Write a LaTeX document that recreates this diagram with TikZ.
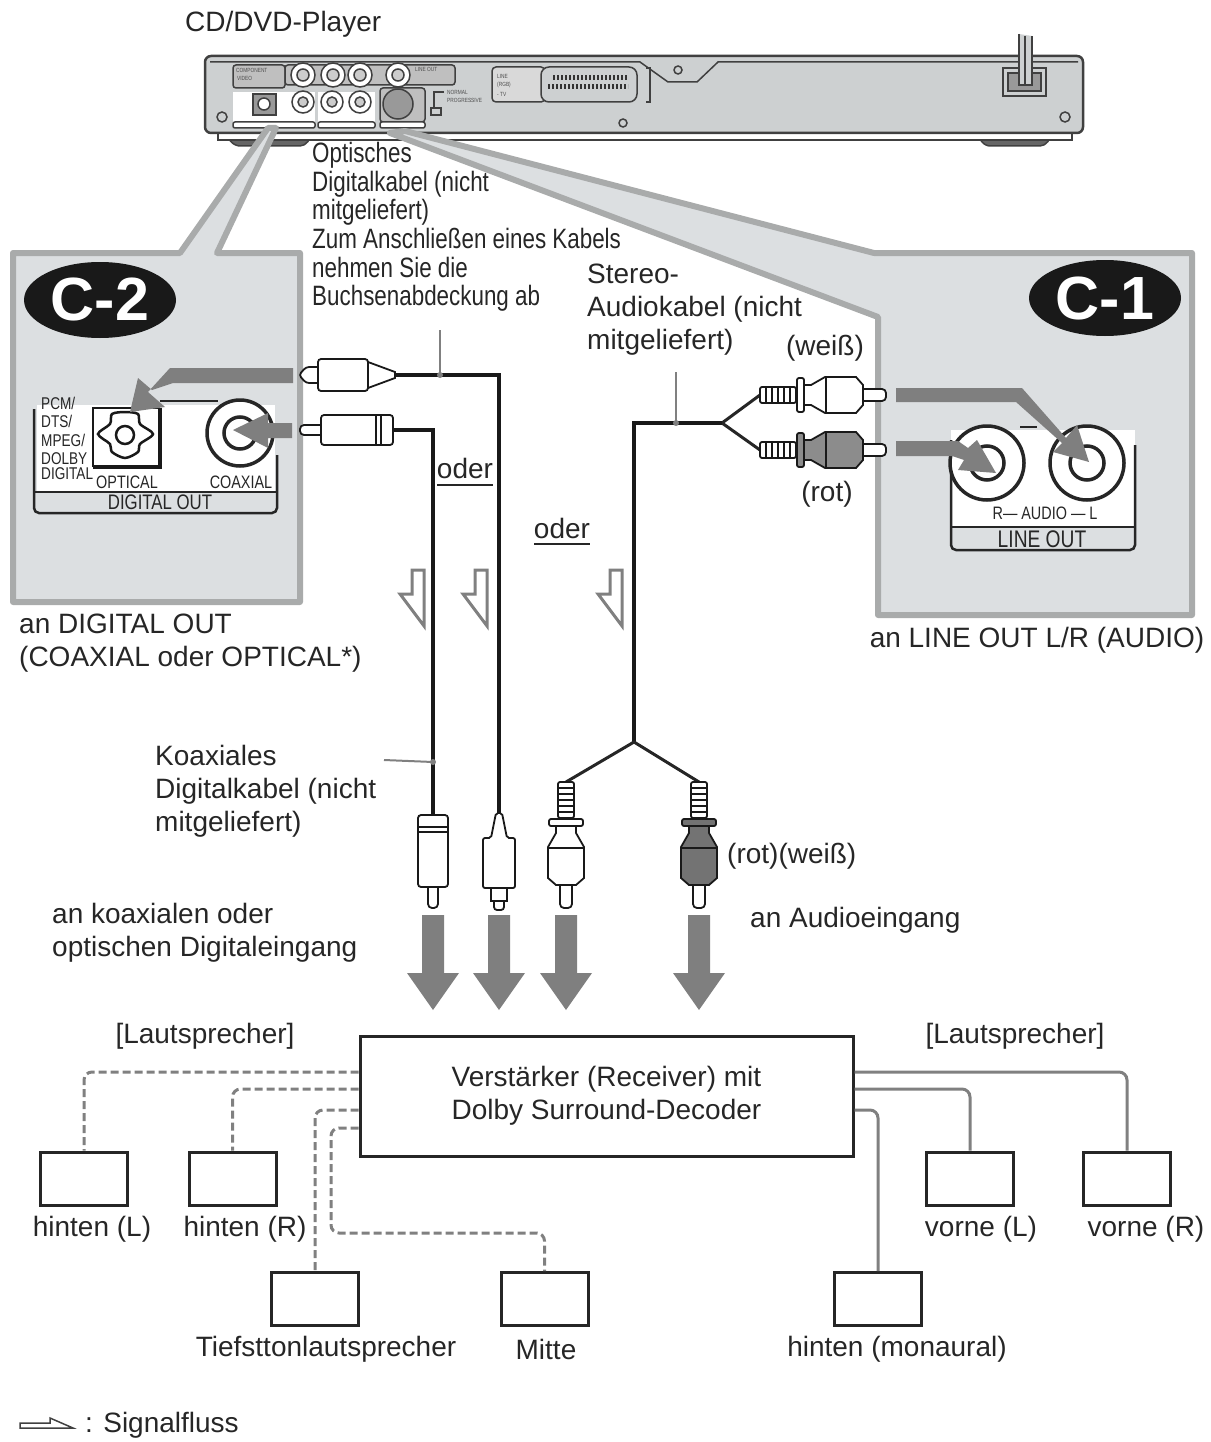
\documentclass[tikz,border=0pt]{standalone}
\usepackage{fontspec}
\setmainfont{Liberation Sans}
\newfontfamily\narrowfont[FakeStretch=0.8]{Liberation Sans}
\usetikzlibrary{shapes.geometric}
\definecolor{panelfill}{HTML}{DCDFE1}
\definecolor{panelrim}{HTML}{A9ABAB}
\definecolor{bodyfill}{HTML}{CDD0D1}
\definecolor{flowgray}{HTML}{7F7F7F}
\definecolor{inkdark}{HTML}{262626}
\tikzset{
	every node/.style={font=\fontsize{28}{33}\selectfont,text=inkdark,inner sep=0pt},
	panel/.style={fill=panelfill,draw=panelrim,line width=6pt,line join=round},
	badge/.style={ellipse,fill=black!90,minimum width=152pt,minimum height=76pt,text=white,font=\fontsize{61}{61}\bfseries\selectfont},
	narrowtext/.style={font=\narrowfont\fontsize{28}{28.6}\selectfont},
	smalltext/.style={font=\narrowfont\fontsize{#1}{#1}\selectfont},
	tinytext/.style={font=\narrowfont\fontsize{6}{7}\selectfont,text=black!70},
	spkbox/.style={draw=inkdark,line width=3pt,minimum width=87pt,minimum height=53pt,fill=white},
	ampbox/.style={draw=inkdark,line width=3pt,minimum width=493pt,minimum height=120pt,align=left},
	spkdash/.style={draw=black!50,line width=3pt,dash pattern=on 8pt off 4pt,rounded corners=8pt},
	spksolid/.style={draw=black!50,line width=3pt,rounded corners=8pt},
	cable/.style={draw=black!90,line width=4pt},
	thincable/.style={draw=black!85,line width=3pt},
	leader/.style={draw=black!50,line width=2pt},
	flowfill/.style={fill=flowgray,draw=none},
	hollow/.style={draw=black!50,line width=3pt,fill=white,line join=miter},
	plugline/.style={draw=black!90,line width=1.8pt},
	deviceline/.style={draw=black!75,line width=1.5pt},
	jack/.style={draw=black!85,line width=3.5pt,fill=white},
	pics/rcaplug/.style={code={
		\draw[plugline,fill=white,rounded corners=4pt] (-6,100) -- (-6,126) -- (6,126) -- (6,100);
		\draw[plugline,fill=white,rounded corners=2pt] (-8,0) rectangle (8,36);
		\foreach \ry in {6,12,18,24,30} \draw[draw=black!90,line width=2pt] (-8,\ry) -- (8,\ry);
		\draw[plugline,fill=#1,rounded corners=2pt] (-17,37) rectangle (17,44);
		\draw[plugline,fill=#1] (-10,44) -- (-10,51) -- (-18,65) -- (-18,96) -- (-10,103) -- (10,103) -- (18,96) -- (18,65) -- (10,51) -- (10,44) -- cycle;
		\draw[plugline] (-18,66) -- (18,66);
	}},
	pics/coaxplug/.style={code={
		\draw[plugline,fill=white,rounded corners=4pt] (-5,72) -- (-5,93) -- (5,93) -- (5,72);
		\draw[plugline,fill=white,rounded corners=3pt] (-15,0) rectangle (15,72);
		\draw[plugline] (-15,12) -- (15,12);
		\draw[plugline] (-15,17) -- (15,17);
	}},
	pics/optplug/.style={code={
		\draw[plugline,fill=white,rounded corners=3pt] (-5,85) -- (-5,97) -- (5,97) -- (5,85);
		\draw[plugline,fill=white] (-8,72) -- (-8,88) -- (8,88) -- (8,72);
		\draw[plugline,fill=white,rounded corners=2pt] (-3,0) -- (-8,25) -- (-16,25) -- (-16,75) -- (16,75) -- (16,25) -- (8,25) -- (3,0) -- cycle;
	}},
	pics/halfarrow/.style={code={
		\draw[hollow] (12,0) -- (24,0) -- (24,56) -- (0,24) -- (12,24) -- cycle;
	}},
	pics/downarrow/.style={code={
		\fill[flowgray] (-11,0) -- (11,0) -- (11,58) -- (26,58) -- (0,95) -- (-26,58) -- (-11,58) -- cycle;
	}},
}
\begin{document}
\begin{tikzpicture}[x=1pt,y=-1pt]
	\useasboundingbox (0,0) rectangle (1210,1442);

	\node[anchor=west] (playerlabel) at (185,24) {CD/DVD-Player};
	\draw[deviceline,fill=black!60,rounded corners=5pt] (225,135) -- (235,146) -- (305,146) -- (312,135) -- cycle;
	\draw[deviceline,fill=black!60,rounded corners=5pt] (977,135) -- (985,146) -- (1045,146) -- (1052,135) -- cycle;
	\draw[deviceline,fill=white] (218,128) rectangle (1072,140);
	\draw[draw=black!75,line width=2.5pt,fill=bodyfill,rounded corners=6pt] (205,56) rectangle (1083,133);
	\draw[deviceline] (210,62) -- (640,62) -- (668,82) -- (697,82) -- (718,62) -- (1078,62);
	\draw[deviceline] (678,70) circle (4);
	\draw[deviceline] (222,117) circle (5);
	\draw[deviceline] (623,123) circle (4);
	\draw[deviceline] (1065,117) circle (5);
	\draw[deviceline] (1003,68) rectangle (1046,96);
	\draw[deviceline,fill=black!40] (1008,73) rectangle (1041,91);
	\draw[deviceline,fill=bodyfill] (1019,34) -- (1019,85) -- (1032,85) -- (1032,36);
	\draw[deviceline] (1025,36) -- (1025,85);

	\draw[deviceline,fill=black!25,rounded corners=3pt] (233,65) rectangle (285,88);
	\draw[deviceline,fill=black!25,rounded corners=3pt] (285,65) rectangle (455,85);
	\foreach \jx in {303,333,360,398} {
		\draw[deviceline,fill=white] (\jx,75) circle (12);
		\draw[deviceline,fill=black!20] (\jx,75) circle (6);
	}
	\node[tinytext,anchor=west] (compolabel) at (236,70) {COMPONENT};
	\node[tinytext,anchor=west] (videolabel) at (237,78) {VIDEO};
	\node[tinytext,anchor=west] (linelabel) at (415,69) {LINE OUT};
	\fill[white] (233,92) rectangle (315,122);
	\fill[white] (318,92) rectangle (375,122);
	\draw[deviceline,fill=black!25,rounded corners=3pt] (380,88) rectangle (425,122);
	\draw[deviceline,fill=black!40] (253,94) rectangle (276,115);
	\draw[deviceline,fill=white] (264,104) circle (6);
	\foreach \jx in {303,332,360} {
		\draw[deviceline,fill=white] (\jx,102) circle (11);
		\draw[deviceline,fill=black!20] (\jx,102) circle (5);
	}
	\draw[deviceline,fill=black!40] (398,104) circle (15);
	\draw[deviceline,fill=white,rounded corners=2pt] (233,122) rectangle (315,128);
	\draw[deviceline,fill=white,rounded corners=2pt] (318,122) rectangle (375,128);
	\draw[deviceline,fill=white,rounded corners=2pt] (380,122) rectangle (425,128);
	\draw[deviceline] (444,92) -- (434,92) -- (434,108);
	\draw[deviceline] (431,108) rectangle (441,115);
	\node[tinytext,anchor=west] (normallabel) at (447,92) {NORMAL};
	\node[tinytext,anchor=west] (proglabel) at (447,100) {PROGRESSIVE};
	\draw[deviceline,fill=black!15,rounded corners=4pt] (492,67) rectangle (545,102);
	\draw[deviceline,fill=bodyfill,rounded corners=8pt] (541,67) rectangle (637,102);
	\node[tinytext,anchor=west] (scartlabel) at (497,76) {LINE};
	\node[tinytext,anchor=west] (rgblabel) at (497,85) {(RGB)};
	\node[tinytext,anchor=west] (tvlabel) at (497,94) {- TV};
	\draw[draw=black!80,line width=5pt,dash pattern=on 2pt off 2pt] (553,78) -- (627,78);
	\draw[draw=black!80,line width=5pt,dash pattern=on 2pt off 2pt] (548,87) -- (628,87);
	\draw[deviceline] (646,68) -- (650,68) -- (650,102) -- (646,102);

	\draw[panel] (13,253) -- (180,253) -- (268,128) -- (276,128) -- (217,253) -- (300,253) -- (300,602) -- (13,602) -- cycle;
	\draw[panel] (1192,253) -- (874,253) -- (405,131) -- (390,133) -- (878,317) -- (878,615) -- (1192,615) -- cycle;
	\node[badge] (ctwo) at (100,300) {C-2};
	\node[badge] (cone) at (1105,298) {C-1};

	\fill[white] (37,405) rectangle (275,492);
	\draw[draw=black!85,line width=2.5pt,rounded corners=5pt] (34,409) -- (34,513) -- (277,513) -- (277,455);
	\draw[draw=black!85,line width=2.5pt] (34,492) -- (277,492);
	\draw[draw=black!85,line width=2.5pt] (160,401) -- (218,401);
	\draw[draw=black!90,line width=2pt] (93,467) -- (93,408) -- (160,408);
	\draw[draw=black!90,line width=4pt] (160,408) -- (160,467) -- (93,467);
	\draw[draw=black!90,line width=2.5pt,fill=white] plot[smooth cycle] coordinates {(98,434) (110,424) (112,414) (125,412) (138,414) (140,424) (153,434) (140,444) (138,452) (125,458) (112,452) (110,444)};
	\draw[draw=black!90,line width=2.5pt,fill=white] (125,435) circle (9);
	\draw[jack] (240,433) circle (33);
	\draw[jack] (240,433) circle (16);
	\node[smalltext=17,anchor=west] (pcmlabel) at (41,403) {PCM/};
	\node[smalltext=17,anchor=west] (dtslabel) at (41,421) {DTS/};
	\node[smalltext=17,anchor=west] (mpeglabel) at (41,440) {MPEG/};
	\node[smalltext=17,anchor=west] (dolbylabel) at (41,459) {DOLBY};
	\node[smalltext=17,anchor=west] (digitallabel) at (41,474) {DIGITAL};
	\node[smalltext=18] (opticallabel) at (127,482) {OPTICAL};
	\node[smalltext=18] (coaxiallabel) at (241,482) {COAXIAL};
	\node[smalltext=21] (digoutlabel) at (160,502) {DIGITAL OUT};
	\fill[flowgray] (293,368) -- (170,368) -- (148,392) -- (165,407) -- (130,412) -- (138,378) -- (152,390) -- (173,383) -- (293,383) -- cycle;
	\fill[flowgray] (292,423) -- (268,423) -- (268,413) -- (233,430) -- (268,448) -- (268,438) -- (292,438) -- cycle;

	\fill[white] (951,430) rectangle (1135,527);
	\draw[draw=black!85,line width=2.5pt,rounded corners=5pt] (951,440) -- (951,550) -- (1135,550) -- (1135,445);
	\draw[draw=black!85,line width=2.5pt] (951,527) -- (1135,527);
	\draw[draw=black!85,line width=2.5pt] (1020,427) -- (1037,427);
	\draw[jack] (987,463) circle (37);
	\draw[jack] (987,463) circle (17);
	\draw[jack] (1087,463) circle (37);
	\draw[jack] (1087,463) circle (17);
	\node[smalltext=18] (audiolabel) at (1045,513) {R— AUDIO — L};
	\node[smalltext=24] (lineoutlabel) at (1042,539) {LINE OUT};
	\fill[flowgray] (896,388) -- (1022,388) -- (1066,438) -- (1077,425) -- (1089,462) -- (1053,452) -- (1062,443) -- (1016,402) -- (896,402) -- cycle;
	\fill[flowgray] (896,441) -- (958,441) -- (968,448) -- (977,440) -- (996,473) -- (958,470) -- (964,460) -- (952,456) -- (896,456) -- cycle;

	\coordinate (optend) at (395,375);
	\coordinate (coaxend) at (393,430);
	\coordinate (forkright) at (722,423);
	\coordinate (forkwhite) at (760,395);
	\coordinate (forkred) at (760,450);
	\coordinate (cablebend) at (634,423);
	\coordinate (forkdown) at (634,742);
	\coordinate (plugcoax) at (433,815);
	\coordinate (plugopt) at (499,813);
	\coordinate (plugleft) at (566,782);
	\coordinate (plugright) at (699,782);
	\coordinate (optlead) at (440,375);
	\coordinate (optleadtop) at (440,330);
	\coordinate (stereolead) at (676,423);
	\coordinate (stereoleadtop) at (676,372);
	\coordinate (coaxlead) at (433,762);
	\coordinate (coaxleadend) at (384,760);

	\draw[cable] (optend) -| (plugopt);
	\draw[cable] (coaxend) -| (plugcoax);
	\draw[cable] (plugright |- cablebend) ++(-60,0) -- (cablebend) -- (forkdown);
	\draw[thincable] (forkwhite) -- (forkright) -- (forkred);
	\draw[thincable] (plugleft) -- (forkdown) -- (plugright);
	\draw[cable] (forkright) -- (cablebend);
	\draw[leader] (optleadtop) -- (optlead);
	\fill[black!50] (optlead) circle (3);
	\draw[leader] (stereoleadtop) -- (stereolead);
	\fill[black!50] (stereolead) circle (3);
	\draw[leader] (coaxleadend) -- (coaxlead);
	\fill[black!50] (coaxlead) circle (3);

	\pic at (forkwhite) [rotate=90] {rcaplug=white};
	\pic at (forkred) [rotate=90] {rcaplug=black!45};
	\pic at (plugleft) {rcaplug=white};
	\pic at (plugright) {rcaplug=black!55};
	\pic at (plugcoax) {coaxplug};
	\pic at (plugopt) {optplug};
	\pic at (coaxend) [rotate=-90] {coaxplug};
	\draw[plugline,fill=white,rounded corners=3pt] (318,367) -- (306,367) -- (299,375) -- (306,383) -- (318,383);
	\draw[plugline,fill=white,rounded corners=3pt] (318,359) rectangle (368,391);
	\draw[plugline,fill=white] (368,362) -- (395,372) -- (395,378) -- (368,388) -- cycle;

	\pic at (400,570) {halfarrow};
	\pic at (463,570) {halfarrow};
	\pic at (598,570) {halfarrow};
	\pic at (433,915) {downarrow};
	\pic at (499,915) {downarrow};
	\pic at (566,915) {downarrow};
	\pic at (699,915) {downarrow};

	\node[narrowtext,anchor=west,align=left] (optlabel) at (312,227) {Optisches\\Digitalkabel (nicht\\mitgeliefert)\\Zum Anschließen eines Kabels\\nehmen Sie die\\Buchsenabdeckung ab};
	\node[anchor=west,align=left] (stereolabel) at (587,310) {Stereo-\\Audiokabel (nicht\\mitgeliefert)};
	\node (whitelabel) at (825,348) {(weiß)};
	\node (redlabel) at (827,494) {(rot)};
	\node (oderone) at (465,468) {oder};
	\node (odertwo) at (562,528) {oder};
	\draw[draw=black!85,line width=1.5pt] (437,485) -- (493,485);
	\draw[draw=black!85,line width=1.5pt] (534,544) -- (590,544);
	\node[anchor=west,align=left] (digitalnote) at (19,643) {an DIGITAL OUT\\(COAXIAL oder OPTICAL*)};
	\node (linenote) at (1037,640) {an LINE OUT L/R (AUDIO)};
	\node[anchor=west,align=left] (coaxlabel) at (155,791) {Koaxiales\\Digitalkabel (nicht\\mitgeliefert)};
	\node[anchor=west,align=left] (digitalin) at (52,933) {an koaxialen oder\\optischen Digitaleingang};
	\node[anchor=west] (redwhite) at (727,856) {(rot)(weiß)};
	\node[anchor=west] (audioin) at (750,920) {an Audioeingang};
	\node (spkleft) at (205,1036) {[Lautsprecher]};
	\node (spkright) at (1015,1036) {[Lautsprecher]};

	\node[ampbox] (amp) at (606.5,1096) {Verstärker (Receiver) mit\\Dolby Surround-Decoder};
	\node[spkbox] (rearl) at (84,1178.5) {};
	\node[spkbox] (rearr) at (232.5,1178.5) {};
	\node[spkbox] (sub) at (315,1299) {};
	\node[spkbox] (center) at (544.5,1299) {};
	\node[spkbox] (mono) at (878,1299) {};
	\node[spkbox] (frontl) at (970,1178.5) {};
	\node[spkbox] (frontr) at (1127,1178.5) {};
	\node (rearltext) at (92,1229) {hinten (L)};
	\node (rearrtext) at (245,1229) {hinten (R)};
	\node (frontltext) at (981,1229) {vorne (L)};
	\node (frontrtext) at (1146,1229) {vorne (R)};
	\node (subtext) at (326,1349) {Tiefsttonlautsprecher};
	\node (centertext) at (546,1349) {Mitte};
	\node (monotext) at (897,1349) {hinten (monaural)};

	\coordinate (ampa) at (amp.west |- 0,1072);
	\coordinate (ampb) at (amp.west |- 0,1089);
	\coordinate (ampc) at (amp.west |- 0,1110);
	\coordinate (ampd) at (amp.west |- 0,1128);
	\coordinate (ampe) at (amp.east |- 0,1072);
	\coordinate (ampf) at (amp.east |- 0,1089);
	\coordinate (ampg) at (amp.east |- 0,1110);
	\coordinate (centerturn) at (331,1233);
	\draw[spkdash] (ampa) -| (rearl.north);
	\draw[spkdash] (ampb) -| (rearr.north);
	\draw[spkdash] (ampc) -| (sub.north);
	\draw[spkdash] (ampd) -| (centerturn) -| (center.north);
	\draw[spksolid] (ampe) -| (frontr.north);
	\draw[spksolid] (ampf) -| (frontl.north);
	\draw[spksolid] (ampg) -| (mono.north);

	\draw[draw=black!75,line width=1.5pt,line join=miter] (20,1423) -- (50,1423) -- (50,1418) -- (73,1428) -- (20,1428) -- cycle;
	\node[anchor=west] (signallabel) at (85,1425) {: Signalfluss};
\end{tikzpicture}
\end{document}
